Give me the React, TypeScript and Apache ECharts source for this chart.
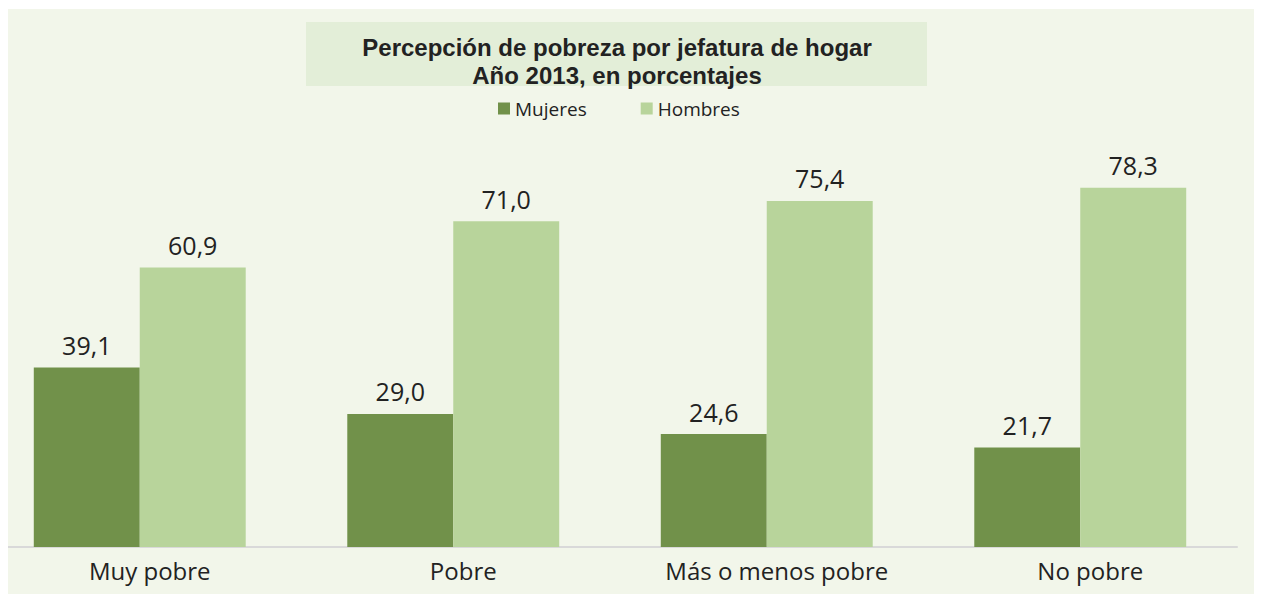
import React, { useEffect, useRef } from "react";
import * as echarts from "echarts";

const categories = ["Muy pobre", "Pobre", "Más o menos pobre", "No pobre"];
const mujeres = [39.1, 29.0, 24.6, 21.7];
const hombres = [60.9, 71.0, 75.4, 78.3];
const titleLines = ["Percepción de pobreza por jefatura de hogar", "Año 2013, en porcentajes"];

const FONT = "'Open Sans', 'Noto Sans', sans-serif";
const TITLE_FONT = "'Liberation Sans', Arial, sans-serif";
// chart x = page x + 25 ; chart y = page y - 8

export default function App() {
  const ref = useRef<HTMLDivElement>(null);
  useEffect(() => {
    const chart = echarts.init(ref.current!, null, { renderer: "svg" });
    const fmt = (p: any) => Number(p.value).toFixed(1).replace(".", ",");
    chart.setOption({
      animation: false,
      graphic: [
        { type: "rect", x: 32, y: 1, shape: { width: 1255, height: 585 }, style: { fill: "#F2F6EA" }, z: -10, silent: true },
        { type: "rect", x: 331, y: 14, shape: { width: 621, height: 64 }, style: { fill: "#E3EED8" }, z: -9, silent: true },
        {
          type: "text",
          x: 642,
          y: 39,
          style: { text: titleLines[0], font: `bold 24px ${TITLE_FONT}`, fill: "#222222", align: "center", verticalAlign: "middle" },
          z: 1,
        },
        {
          type: "text",
          x: 642,
          y: 67,
          style: { text: titleLines[1], font: `bold 24px ${TITLE_FONT}`, fill: "#222222", align: "center", verticalAlign: "middle" },
          z: 1,
        },
      ],
      legend: {
        left: 518,
        top: 86,
        itemWidth: 12,
        itemHeight: 12,
        itemGap: 54,
        icon: "rect",
        textStyle: { fontFamily: FONT, fontSize: 19, color: "#222222" },
        data: ["Mujeres", "Hombres"],
      },
      grid: { left: 8, right: 25, top: 126, bottom: 47, containLabel: false },
      xAxis: {
        type: "category",
        data: categories,
        axisLine: { show: true, lineStyle: { color: "#D9D9D9", width: 2 } },
        axisTick: { show: false },
        axisLabel: { fontFamily: FONT, fontSize: 24, color: "#222222", margin: 11, padding: [0, 0, 0, 20] },
      },
      yAxis: { type: "value", min: 0, max: 90, show: false, splitLine: { show: false } },
      series: [
        {
          name: "Mujeres",
          type: "bar",
          data: mujeres,
          barWidth: "33.8%",
          barGap: "0%",
          itemStyle: { color: "#71914A" },
          label: { show: true, position: "top", distance: 10, formatter: fmt, fontFamily: FONT, fontSize: 25, color: "#222222" },
        },
        {
          name: "Hombres",
          type: "bar",
          data: hombres,
          barWidth: "33.8%",
          barGap: "0%",
          itemStyle: { color: "#B8D49B" },
          label: { show: true, position: "top", distance: 10, formatter: fmt, fontFamily: FONT, fontSize: 25, color: "#222222" },
        },
      ],
    });
    return () => chart.dispose();
  }, []);
  return (
    <div
      ref={ref}
      style={{ position: "relative", left: -33, width: 1287, height: 586 }}
    />
  );
}
